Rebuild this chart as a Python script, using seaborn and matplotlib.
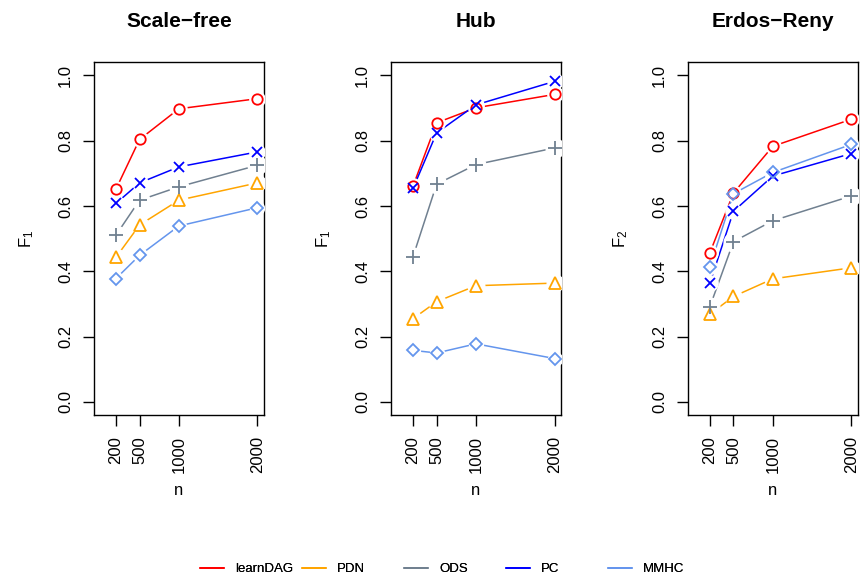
import matplotlib
matplotlib.use("Agg")
import matplotlib.pyplot as plt
import seaborn as sns
import pandas as pd
from matplotlib.lines import Line2D

sns.set_theme(style="white")
plt.rcParams['font.family'] = ['Liberation Sans', 'DejaVu Sans']
plt.rcParams['text.color'] = 'black'
plt.rcParams['axes.labelcolor'] = 'black'
plt.rcParams['xtick.color'] = 'black'
plt.rcParams['ytick.color'] = 'black'
plt.rcParams['mathtext.fontset'] = 'custom'
plt.rcParams['mathtext.rm'] = 'Liberation Sans'
plt.rcParams['mathtext.it'] = 'Liberation Sans'

n_values = [200, 500, 1000, 2000]
methods = ["learnDAG", "PDN", "ODS", "PC", "MMHC"]
panel_titles = ["Scale\u2212free", "Hub", "Erdos\u2212Reny"]
panel_ylabels = ["F$_1$", "F$_1$", "F$_2$"]

scalefree = {
    "learnDAG": [0.652, 0.804, 0.898, 0.929],
    "PDN":      [0.443, 0.542, 0.618, 0.671],
    "ODS":      [0.511, 0.618, 0.659, 0.725],
    "PC":       [0.608, 0.671, 0.720, 0.766],
    "MMHC":     [0.378, 0.449, 0.539, 0.595],
}
hub = {
    "learnDAG": [0.661, 0.855, 0.901, 0.942],
    "PDN":      [0.255, 0.307, 0.356, 0.364],
    "ODS":      [0.445, 0.667, 0.727, 0.778],
    "PC":       [0.654, 0.824, 0.910, 0.982],
    "MMHC":     [0.158, 0.150, 0.178, 0.133],
}
erdos = {
    "learnDAG": [0.457, 0.640, 0.783, 0.866],
    "PDN":      [0.269, 0.323, 0.377, 0.411],
    "ODS":      [0.292, 0.491, 0.555, 0.631],
    "PC":       [0.364, 0.584, 0.692, 0.761],
    "MMHC":     [0.414, 0.638, 0.703, 0.789],
}
panels = [scalefree, hub, erdos]

colors = {"learnDAG": "#FF0000", "PDN": "#FFA500", "ODS": "#708090",
          "PC": "#0000FF", "MMHC": "#6495ED"}
markers = {"learnDAG": "o", "PDN": "^", "ODS": "+", "PC": "x", "MMHC": "D"}
msizes = {"learnDAG": 7.5, "PDN": 8.5, "ODS": 10, "PC": 7.5, "MMHC": 6.5}

fig = plt.figure(figsize=(8.62, 5.78), dpi=100)
lefts = [0.109, 0.4536, 0.798]
axes = [fig.add_axes([l, 0.282, 0.197, 0.610]) for l in lefts]

for ax, data, title, ylab in zip(axes, panels, panel_titles, panel_ylabels):
    for k, m in enumerate(methods):
        df = pd.DataFrame({"n": n_values, "v": data[m]})
        sns.lineplot(data=df, x="n", y="v", ax=ax, color=colors[m], lw=1.1,
                     zorder=2, legend=False)
        # white halo to create gaps like R type="b"
        ax.plot(df["n"], df["v"], ls="none", marker="o", ms=msizes[m] + 3.5,
                mfc="white", mec="white", zorder=3)
        ax.plot(df["n"], df["v"], ls="none", marker=markers[m], ms=msizes[m],
                mfc="none", mec=colors[m], mew=1.3, zorder=4 + k)
    ax.set_xlim(-80, 2080)
    ax.set_ylim(-0.04, 1.04)
    ax.set_xticks(n_values)
    ax.set_xticklabels([str(v) for v in n_values], rotation=90, fontsize=12)
    ax.set_yticks([0.0, 0.2, 0.4, 0.6, 0.8, 1.0])
    ax.set_yticklabels(["0.0", "0.2", "0.4", "0.6", "0.8", "1.0"], rotation=90,
                       va="center", fontsize=12)
    ax.tick_params(axis="both", direction="out", length=8, width=1, color="black",
                   left=True, bottom=True, pad=7)
    for s in ax.spines.values():
        s.set_color("black")
        s.set_linewidth(1.0)
    ax.set_title(title, fontsize=15, fontweight="bold", pad=25.5, color="black")
    ax.set_xlabel("n", fontsize=12, labelpad=7)
    ax.set_ylabel(ylab, fontsize=12, labelpad=16)
    ax.grid(False)

for k, m in enumerate(methods):
    h = Line2D([0], [0], color=colors[m], lw=1.3)
    x0 = (200 + 102 * k) / 862
    leg = fig.legend([h], [m], loc="center left", bbox_to_anchor=(x0, 0.015),
                     frameon=False, fontsize=9.5, handlelength=1.85,
                     handletextpad=0.8, borderpad=0, borderaxespad=0)
    fig.add_artist(leg)

fig.savefig("out.png", dpi=100)
